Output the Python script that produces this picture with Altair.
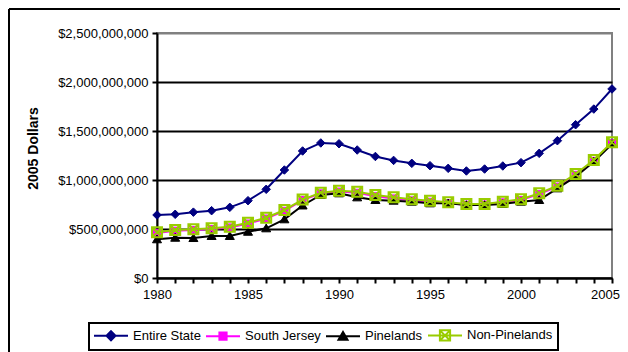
import altair as alt
import pandas as pd

years = list(range(1980, 2006))
series_names = ["Entire State", "South Jersey", "Pinelands", "Non-Pinelands"]

# values in millions of 2005 dollars
entire_state = [643, 650, 672, 687, 721, 789, 905, 1102, 1296, 1378, 1370, 1306, 1240,
                1200, 1170, 1146, 1119, 1092, 1112, 1143, 1177, 1272, 1401, 1564, 1724, 1929]
south_jersey = [460, 483, 490, 500, 516, 556, 607, 686, 795, 864, 882, 870, 835,
                812, 792, 778, 763, 748, 750, 772, 796, 856, 933, 1053, 1196, 1378]
pinelands = [395, 411, 408, 429, 429, 472, 507, 599, 740, 847, 864, 823, 796,
             789, 779, 762, 762, 745, 745, 755, 779, 796, 915, 1034, 1187, 1367]
non_pinelands = [466, 490, 497, 507, 524, 564, 615, 694, 800, 871, 891, 881, 847,
                 823, 803, 789, 772, 755, 755, 779, 803, 864, 942, 1061, 1204, 1385]

y_ticks = [0, 500_000_000, 1_000_000_000, 1_500_000_000, 2_000_000_000, 2_500_000_000]

stroke_colors = ["#000080", "#FF00FF", "#000000", "#99CC00"]
fill_colors = ["#000080", "#FF00FF", "#000000", "transparent"]

marker_paths = [
    "M0,-0.85L0.85,0L0,0.85L-0.85,0Z",
    "M-0.7,-0.7H0.7V0.7H-0.7Z",
    "M0,-0.85L0.9,0.7L-0.9,0.7Z",
    "M-1,-1H1V1H-1Z M-1,-1L1,1 M1,-1L-1,1",
]
legend_paths = [
    "M-2.833,0H2.833 M0,-0.75L0.75,0L0,0.75L-0.75,0Z",
    "M-2.833,0H2.833 M-0.6,-0.6H0.6V0.6H-0.6Z",
    "M-2.833,0H2.833 M0,-0.7L0.75,0.6L-0.75,0.6Z",
    "M-2.833,0H2.833 M-0.85,-0.85H0.85V0.85H-0.85Z M-0.85,-0.85L0.85,0.85 M0.85,-0.85L-0.85,0.85",
]
marker_stroke_widths = [1, 1, 1, 2]

rows = []
for name, vals in zip(series_names, [entire_state, south_jersey, pinelands, non_pinelands]):
    for yr, v in zip(years, vals):
        rows.append({"year": yr, "series": name, "value": v * 1_000_000})
df = pd.DataFrame(rows)

FONT = "Liberation Sans"

x_enc = alt.X(
    "year:Q",
    scale=alt.Scale(domain=[1980, 2005], nice=False, zero=False),
    axis=alt.Axis(
        values=years,
        labelExpr="datum.value % 5 == 0 ? datum.value : ''",
        labelOverlap=False,
        labelFlush=False,
        labelOffset=alt.condition("datum.value >= 2005", alt.value(-7), alt.value(0)),
        grid=False,
        title=None,
        labelPadding=5,
    ),
)
y_enc = alt.Y(
    "value:Q",
    scale=alt.Scale(domain=[0, 2_500_000_000], nice=False),
    axis=alt.Axis(
        values=y_ticks,
        format="$,.0f",
        grid=True,
        gridColor=alt.condition("datum.value >= 2500000000", alt.value("#808080"), alt.value("#000000")),
        gridWidth=2,
        labelPadding=4,
        title="2005 Dollars",
        titleFontWeight="bold",
        titleFontSize=14,
        titleFont=FONT,
        titleColor="black",
        titleX=-124,
        titleY=115,
        titleAngle=270,
        titleAlign="center",
        titleBaseline="middle",
    ),
)

layers = []
one = alt.Data(values=[{"k": 1}])
layers.append(alt.Chart(one).mark_rule(color="black", strokeWidth=2).encode(
    x=alt.value(-148), y=alt.value(-24), y2=alt.value(330)))
layers.append(alt.Chart(one).mark_rule(color="black", strokeWidth=2).encode(
    x=alt.value(-148), x2=alt.value(480), y=alt.value(-24)))

for name, col, fcol, path, sw in zip(series_names, stroke_colors, fill_colors,
                                      marker_paths, marker_stroke_widths):
    sub = alt.Chart(df).transform_filter(alt.datum.series == name)
    layers.append(sub.mark_line(strokeWidth=2, color=col).encode(x=x_enc, y=y_enc, order=alt.Order("year:Q")))
    layers.append(sub.mark_point(shape=path, size=100, filled=True, opacity=1,
                                 fill=fcol, stroke=col, strokeWidth=sw).encode(x=x_enc, y=y_enc))

leg = alt.Legend(
    orient="none", legendX=-68, legendY=290, direction="horizontal", columns=4,
    title=None, labelFont=FONT, labelFontSize=13, labelColor="black",
    symbolSize=144, symbolStrokeWidth=2, symbolOpacity=1, symbolOffset=10,
    labelOffset=15, columnPadding=1, padding=5,
    strokeColor="black", fillColor="white",
)
legend_layer = (
    alt.Chart(df)
    .transform_filter("false")
    .mark_point(filled=True, opacity=1)
    .encode(
        x=x_enc, y=y_enc,
        fill=alt.Fill("series:N", scale=alt.Scale(domain=series_names, range=fill_colors), legend=leg),
        stroke=alt.Stroke("series:N", scale=alt.Scale(domain=series_names, range=stroke_colors), legend=leg),
        shape=alt.Shape("series:N", scale=alt.Scale(domain=series_names, range=legend_paths), legend=leg),
    )
)
layers.append(legend_layer)

chart = (
    alt.layer(*layers)
    .properties(width=455, height=245, autosize=alt.AutoSizeParams(type="none"),
                padding={"left": 149, "top": 25, "right": 8, "bottom": 74},
                background="white")
    .configure_view(stroke="#808080", strokeWidth=2)
    .configure_axis(
        labelFont=FONT, labelFontSize=13, labelColor="black",
        domainColor="black", domainWidth=2,
        tickColor="black", tickWidth=2, tickSize=5,
    )
    .configure_legend(strokeWidth=2)
)

chart.save("out.html", embed_options={"renderer": "svg", "actions": False})
